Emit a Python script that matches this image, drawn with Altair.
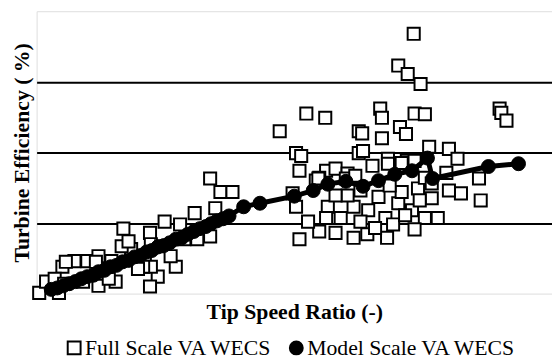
import altair as alt
import pandas as pd

# Full Scale VA WECS (tip speed ratio, efficiency %)
full_tsr = [4.39, 4.21, 4.32, 4.47, 3.14, 3.36, 4.00, 4.02, 4.40, 4.52, 5.39, 5.41, 5.47,
            2.83, 3.75, 3.79, 4.02, 4.23, 4.30, 3.02, 3.08, 3.75, 3.80, 4.57, 4.80, 4.90,
            4.09, 3.91, 4.31, 3.06, 3.37, 3.29, 3.48, 3.62, 3.25, 2.14, 2.28, 2.02, 2.08,
            1.84, 1.49, 1.67, 1.99, 1.87, 1.01, 1.32, 1.33, 1.62, 1.41, 1.32, 0.92, 0.72,
            0.26, 0.03, 0.11, 0.30, 0.44, 0.59, 0.72, 0.87, 1.10, 1.26, 1.45, 1.33, 0.99,
            1.24, 1.07, 1.56, 0.34, 0.21, 0.69, 0.84, 0.54, 0.32, 1.72, 2.02, 1.18,
            3.28, 3.60, 3.71, 4.09, 4.25, 4.40, 3.02, 3.06, 3.29, 3.48, 3.69, 3.85, 4.08,
            3.39, 3.37, 3.54, 3.69, 3.86, 4.06, 4.21, 4.37, 4.52, 4.60, 4.67, 3.98, 4.25,
            4.44, 4.52, 4.94, 5.17, 5.15, 4.60, 4.77, 4.80,
            3.16, 3.62, 3.77, 3.94, 4.15, 4.29, 4.40, 4.11, 3.77, 3.48, 4.46, 2.98]
full_eff = [36.8, 32.3, 31.1, 29.7, 25.5, 24.9, 26.2, 24.9, 25.5, 25.4, 26.2, 25.6, 24.5,
            23.0, 23.0, 22.7, 22.0, 23.6, 22.6, 19.9, 19.5, 19.9, 20.2, 20.8, 20.5, 19.1,
            19.1, 18.1, 18.8, 17.4, 17.4, 16.4, 17.7, 17.0, 16.0, 14.4, 14.4, 16.3, 12.1,
            11.4, 10.2, 9.8, 8.4, 7.7, 9.2, 8.6, 7.0, 3.8, 2.4, 1.0, 1.7, 1.1,
            0.1, 0.1, 1.7, 3.8, 4.6, 4.6, 5.3, 4.6, 6.3, 4.9, 6.7, 3.8, 6.7,
            3.8, 7.4, 5.3, 4.5, 2.1, 4.5, 2.1, 1.7, 1.4, 7.7, 8.1, 3.5,
            16.3, 16.3, 16.7, 18.4, 18.5, 18.8, 12.3, 7.7, 8.8, 8.6, 7.9, 8.4, 7.9,
            12.3, 10.7, 10.7, 12.3, 11.8, 10.7, 12.8, 11.8, 10.7, 13.5, 10.7, 13.7, 14.4,
            14.9, 16.4, 14.2, 13.2, 16.3, 15.6, 17.1, 14.6,
            10.2, 13.9, 10.2, 9.3, 9.8, 11.1, 9.1, 15.3, 14.6, 13.9, 13.2, 14.2]

# Model Scale VA WECS
model_tsr = [0.17, 0.24, 0.31, 0.38, 0.45, 0.52, 0.59, 0.66, 0.72, 0.79, 0.86, 0.93, 1.00,
             1.07, 1.14, 1.21, 1.28, 1.34, 1.41, 1.48, 1.55, 1.62, 1.69, 1.76, 1.83, 1.90,
             1.97, 2.03, 2.10, 2.17, 2.24, 2.41, 2.60, 3.00, 3.22, 3.39, 3.60, 3.80, 3.98,
             4.17, 4.37, 4.55, 4.61, 5.26, 5.61]
model_eff = [0.6, 0.8, 1.1, 1.4, 1.7, 2.1, 2.4, 2.6, 3.1, 3.3, 3.8, 4.0, 4.5,
             4.7, 5.2, 5.4, 5.9, 6.1, 6.6, 6.8, 7.2, 7.7, 7.9, 8.4, 8.8, 9.2,
             9.5, 9.9, 10.3, 10.6, 11.0, 12.3, 12.8, 13.8, 14.6, 15.5, 15.9, 15.2, 16.0,
             16.9, 17.4, 19.2, 16.3, 18.0, 18.4]

series_names = ["Full Scale VA WECS", "Model Scale VA WECS"]

full_df = pd.DataFrame({"tsr": full_tsr, "eff": full_eff, "series": series_names[0]})
model_df = pd.DataFrame({"tsr": model_tsr, "eff": model_eff, "series": series_names[1],
                         "idx": list(range(len(model_tsr)))})

FONT = "Liberation Serif"

x_enc = alt.X("tsr:Q", scale=alt.Scale(domain=[0, 6], nice=False, zero=True),
              axis=alt.Axis(title="Tip Speed Ratio (-)", labels=False, ticks=False,
                            domain=False, grid=False, titleFont=FONT, titleFontSize=22,
                            titleFontWeight="bold", titleColor="black", titlePadding=8))
y_enc = alt.Y("eff:Q", scale=alt.Scale(domain=[0, 40], nice=False),
              axis=alt.Axis(title="Turbine Efficiency ( %)", labels=False, ticks=False,
                            domain=False, grid=True, values=[10, 20, 30],
                            gridColor="black", gridWidth=2, gridOpacity=1,
                            titleFont=FONT, titleFontSize=22, titleFontWeight="bold",
                            titleColor="black", titlePadding=3))

shape_scale = alt.Scale(domain=series_names, range=["square", "circle"])
fill_scale = alt.Scale(domain=series_names, range=["white", "black"])
stroke_scale = alt.Scale(domain=series_names, range=["black", "black"])
legend = alt.Legend(title=None, orient="none", legendX=27, legendY=330,
                    direction="horizontal", labelFont=FONT, labelFontSize=22,
                    labelColor="black", labelOffset=0, columnPadding=13,
                    labelLimit=400, symbolSize=170, symbolStrokeColor="black",
                    symbolStrokeWidth=2, padding=0)

squares = alt.Chart(full_df).mark_point(size=150, filled=True, strokeWidth=2,
                                         opacity=1, fillOpacity=1).encode(
    x=x_enc, y=y_enc,
    shape=alt.Shape("series:N", scale=shape_scale, legend=legend),
    fill=alt.Fill("series:N", scale=fill_scale, legend=legend),
    stroke=alt.Stroke("series:N", scale=stroke_scale, legend=legend),
)

line = alt.Chart(model_df).mark_line(color="black", strokeWidth=5).encode(
    x=x_enc, y=y_enc, order="idx:Q")

circles = alt.Chart(model_df).mark_point(size=200, filled=True, strokeWidth=1,
                                          opacity=1, fillOpacity=1).encode(
    x=x_enc, y=y_enc,
    shape=alt.Shape("series:N", scale=shape_scale, legend=legend),
    fill=alt.Fill("series:N", scale=fill_scale, legend=legend),
    stroke=alt.Stroke("series:N", scale=stroke_scale, legend=legend),
)

chart = alt.layer(squares, line, circles).properties(
    width=522, height=286,
    autosize=alt.AutoSizeParams(type="none"),
    padding={"left": 29, "top": 1, "right": 0, "bottom": 66},
).configure_view(stroke="black", strokeWidth=2).configure(background="white")

chart.save("out.html", embed_options={"renderer": "svg", "actions": False})
